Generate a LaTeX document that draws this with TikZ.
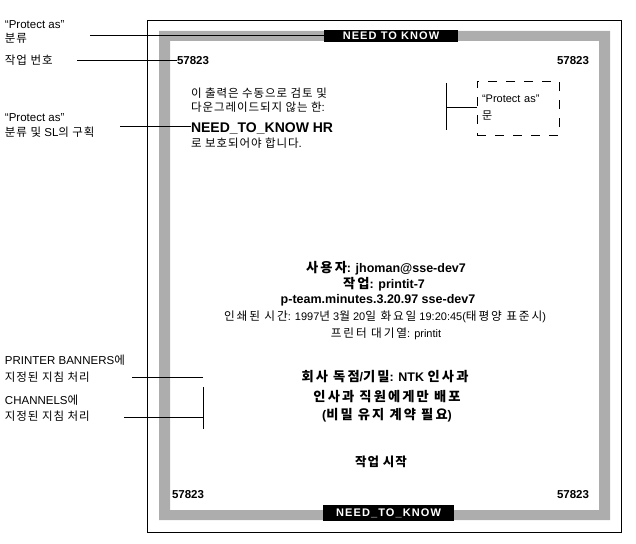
\documentclass[tikz,border=0pt]{standalone}
\usepackage{fontspec}
\setmainfont{Liberation Sans}
\newfontfamily\kr[LetterSpace=8]{Noto Sans CJK KR}
\newfontfamily\krw[Scale=1.06, LetterSpace=16]{Noto Sans CJK KR}
\usetikzlibrary{positioning}

\begin{document}
\begin{tikzpicture}[
        x=1pt,
        y=-1pt,
        every node/.style={inner sep=0pt, outer sep=0pt},
        lbl/.style={anchor=base west, font=\fontsize{11.5}{14}\selectfont},
        num/.style={anchor=base, font=\bfseries\fontsize{11.5}{14}\selectfont},
        banner/.style={fill=black, text=white,
            font=\bfseries\fontsize{11}{13}\selectfont\addfontfeature{LetterSpace=10}},
        big/.style={anchor=base west, font=\bfseries\fontsize{14}{16}\selectfont},
        mid/.style={anchor=base, font=\bfseries\fontsize{12.5}{15}\selectfont},
        fine/.style={anchor=base, font=\fontsize{11}{14}\selectfont},
        lead/.style={line width=1pt}
    ]

    \useasboundingbox (0,0) rectangle (636,543);

    % page and shaded frame
    \draw[line width=1pt] (147,21) rectangle (621,532);
    \fill[black!32, even odd rule] (159,31) rectangle (610,520)
        (170,41) rectangle (599,510);

    % banners
    \node[banner, minimum width=134pt, minimum height=12pt] (topban) at (391,36) {NEED TO KNOW};
    \node[banner, minimum width=131pt, minimum height=16pt] (botban) at (388.5,513) {NEED\_TO\_KNOW};

    % job numbers
    \node[num, anchor=base west] (n1) at (177,64) {57823};
    \node[num, anchor=base east] (n2) at (589,64) {57823};
    \node[num, anchor=base west] (n3) at (172,498) {57823};
    \node[num, anchor=base east] (n4) at (589,498) {57823};

    % protect-as block
    \node[lbl] (pa1) at (191,97) {{\kr 이 출력은 수동으로 검토 및}};
    \node[lbl] (pa2) at (191,111) {{\kr 다운그레이드되지 않는 한}:};
    \node[big] (hr) at (191,132) {NEED\_TO\_KNOW HR};
    \node[lbl] (pa3) at (191,147) {{\kr 로 보호되어야 합니다}.};

    \node[draw, dashed, dash pattern=on 9pt off 9pt, line width=1pt,
        minimum width=82pt, minimum height=54pt, text width=72pt, align=left,
        font=\fontsize{11}{17}\selectfont] (pbox) at (518,108)
        {“Protect as”\\{\kr 문}};

    % centre texts
    \node[mid] (user) at (386,272) {{\krw 사용자}: jhoman@sse-dev7};
    \node[mid] (job) at (384,288) {{\krw 작업}: printit-7};
    \node[mid] (file) at (378,303) {p-team.minutes.3.20.97 sse-dev7};
    \node[fine] (time) at (385,320) {{\krw 인쇄된 시간}: 1997{\krw 년} 3{\krw 월} 20{\krw 일 화요일} 19:20:45({\krw 태평양 표준시})};
    \node[fine] (queue) at (386,337) {{\krw 프린터 대기열}: printit};

    \node[mid] (prop) at (385,381) {{\krw 회사 독점}/{\krw 기밀}: NTK {\krw 인사과}};
    \node[mid] (dist) at (387,401) {{\krw 인사과 직원에게만 배포}};
    \node[mid] (nda) at (387,419) {({\krw 비밀 유지 계약 필요})};
    \node[mid] (start) at (381,466) {{\kr 작업 시작}};

    % callout labels
    \node[lbl] (cl1) at (5,29) {“Protect as”};
    \node[lbl] (cl2) at (5,42) {{\kr 분류}};
    \node[lbl] (cl3) at (5,64) {{\kr 작업 번호}};
    \node[lbl] (cl4) at (5,121) {“Protect as”};
    \node[lbl] (cl5) at (5,136) {{\kr 분류 및} SL{\kr 의 구획}};
    \node[lbl] (cl6) at (5,364) {PRINTER BANNERS{\kr 에}};
    \node[lbl] (cl7) at (5,381) {{\kr 지정된 지침 처리}};
    \node[lbl] (cl8) at (5,404) {CHANNELS{\kr 에}};
    \node[lbl] (cl9) at (5,420) {{\kr 지정된 지침 처리}};

    % leader lines
    \coordinate (c1) at (90,36);
    \coordinate (c2) at (77,60);
    \coordinate (c3) at (120,126);
    \coordinate (bt) at (446,83);
    \coordinate (bb) at (446,130);
    \coordinate (bm) at (446,107);
    \coordinate (c4) at (132,377);
    \coordinate (c4e) at (203,377);
    \coordinate (c5) at (124,417);
    \coordinate (ct) at (203,387);
    \coordinate (cb) at (203,429);

    \draw[lead] (c1) -- (topban.west |- c1);
    \draw[lead] (c2) -- (n1.west |- c2);
    \draw[lead] (c3) -- (hr.west |- c3);
    \draw[lead] (bt) -- (bb);
    \draw[lead] (bm) -- (pbox.west |- bm);
    \draw[lead] (c4) -- (c4e);
    \draw[lead] (ct) -- (cb);
    \draw[lead] (c5) -- (ct |- c5);

\end{tikzpicture}
\end{document}
